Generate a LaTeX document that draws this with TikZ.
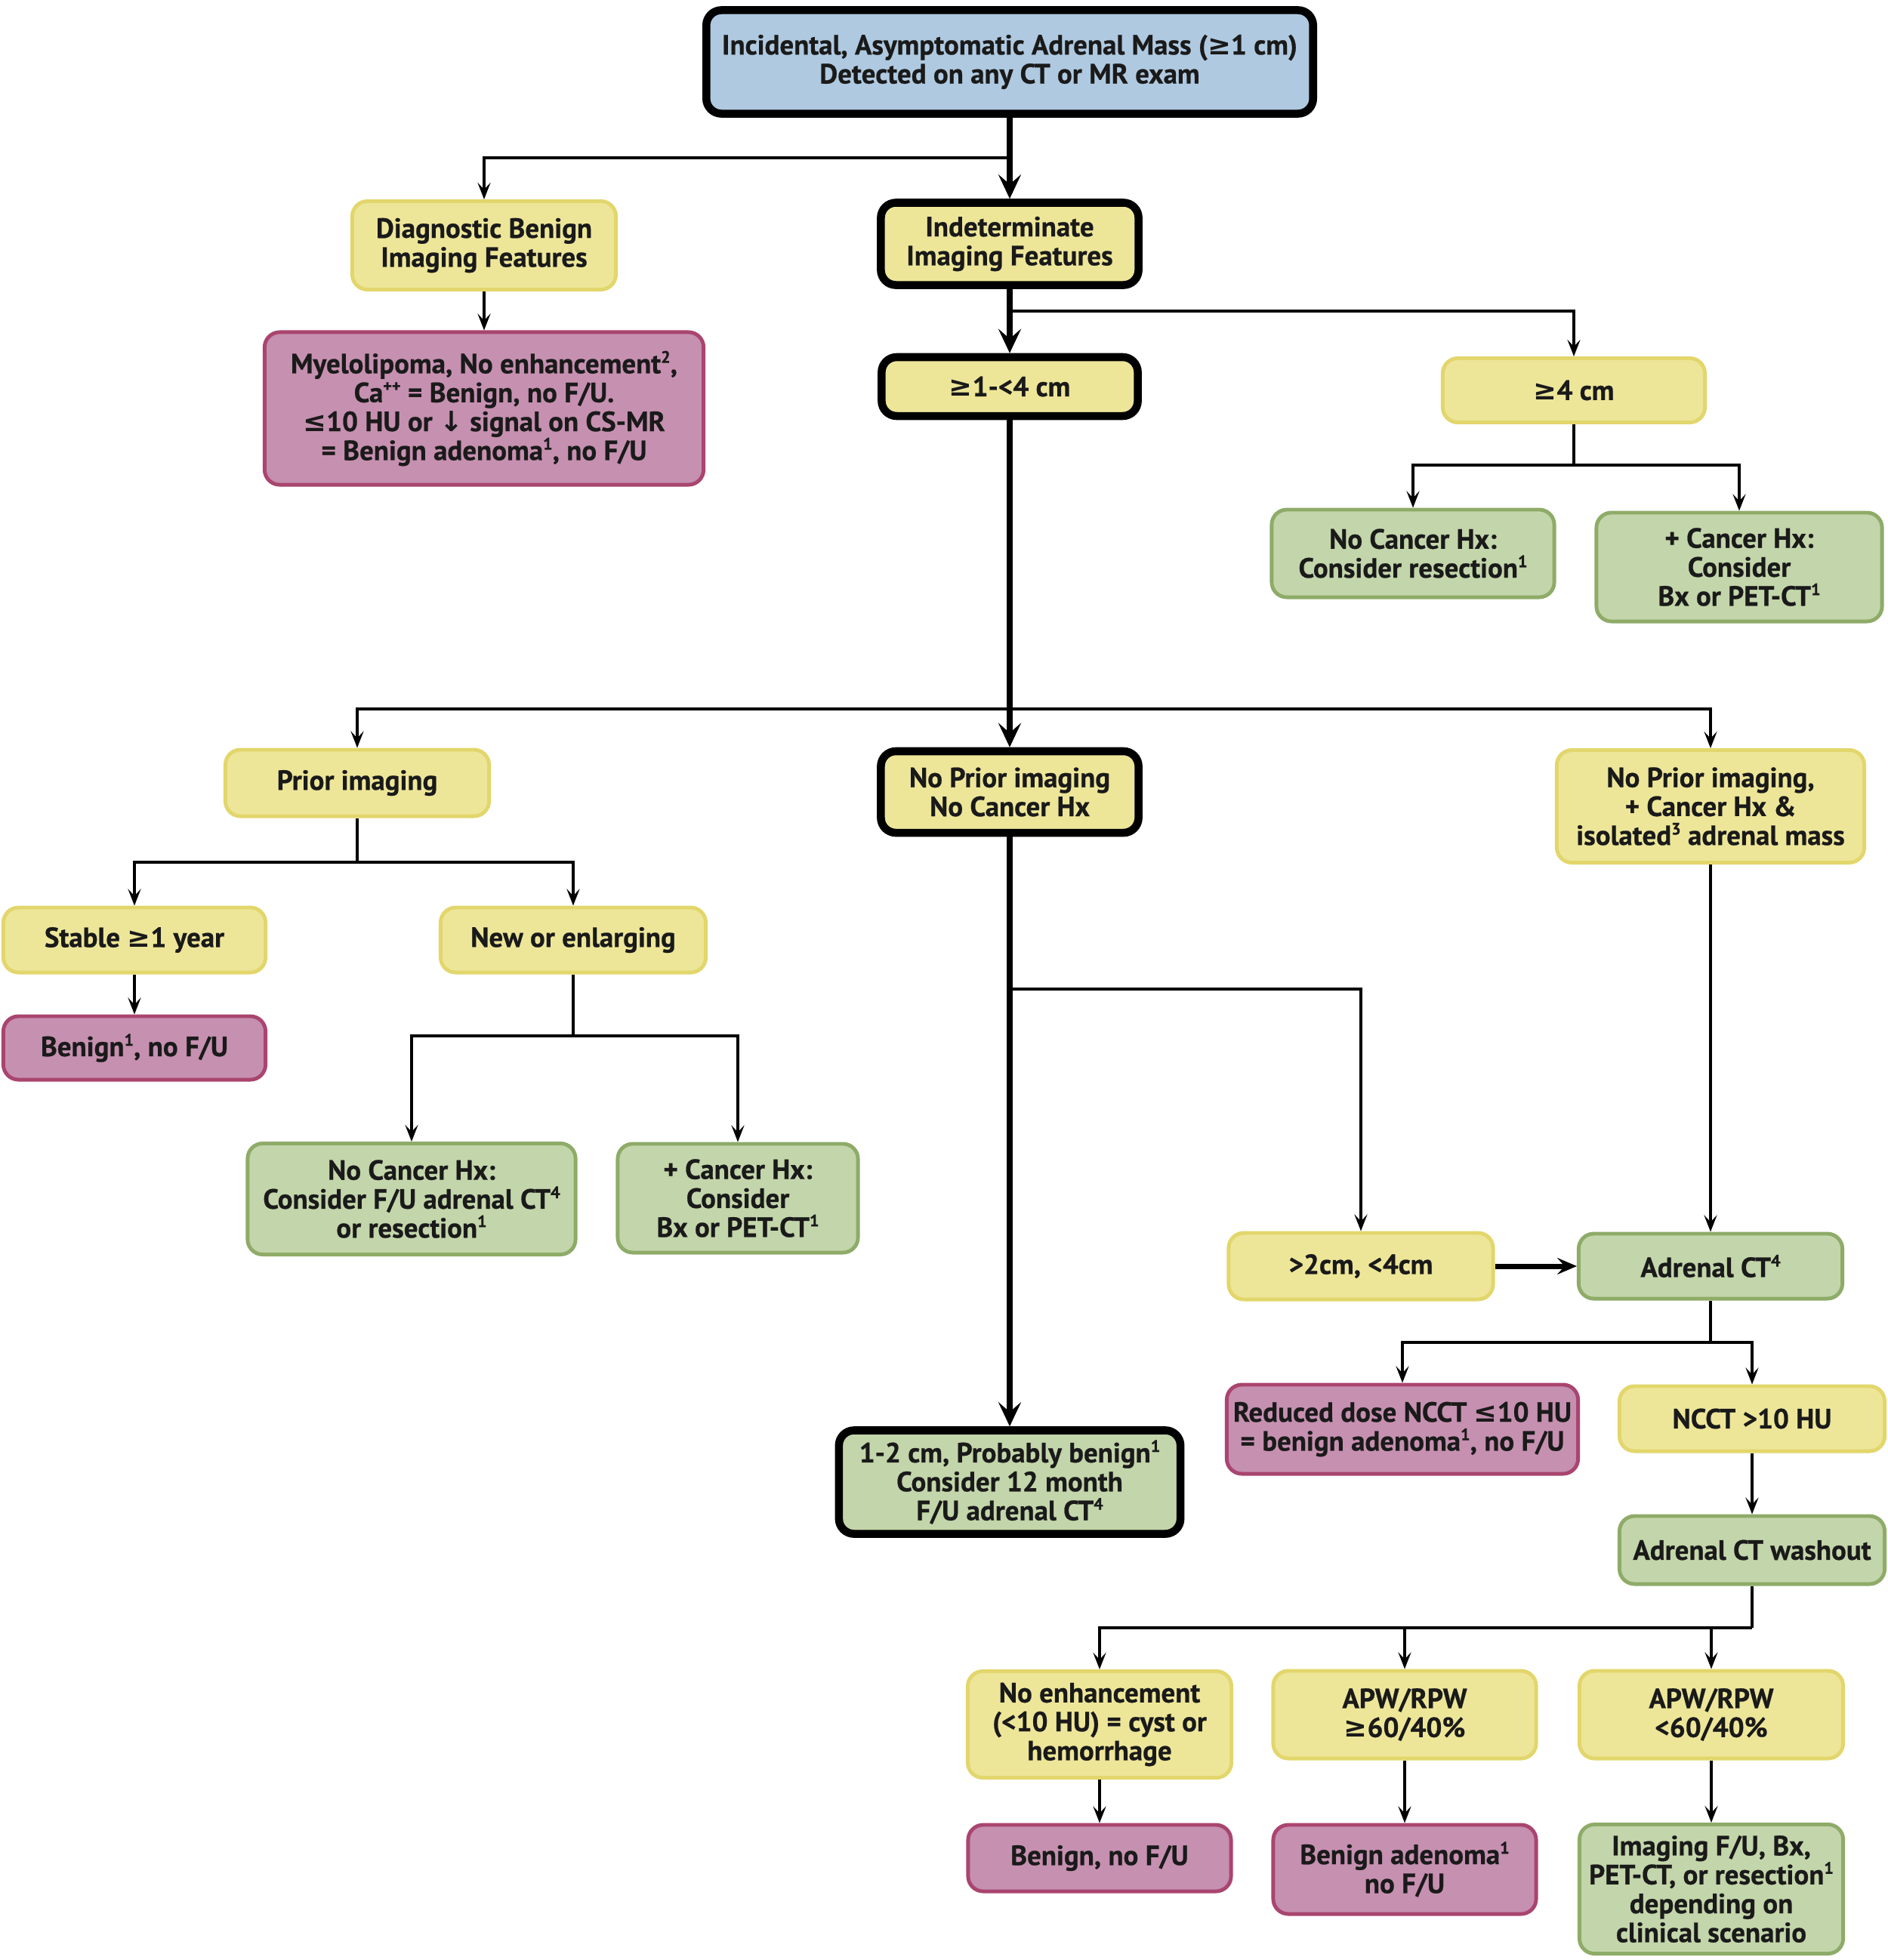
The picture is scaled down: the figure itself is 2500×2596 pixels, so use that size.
\documentclass[tikz,border=0pt]{standalone}
\usepackage{fontspec}
\setmainfont{PT Sans}[BoldFeatures={FakeBold=0.6}]
\newfontfamily\symf{DejaVu Sans}
\usetikzlibrary{arrows.meta}
\newcommand{\GE}{{\symf\bfseries ≥}}
\newcommand{\LE}{{\symf\bfseries ≤}}
\newcommand{\DA}{{\symf\bfseries ↓}}
\newcommand{\sups}[1]{\raisebox{0.75ex}{\fontsize{6.3}{6.3}\selectfont #1}}
\definecolor{bluef}{HTML}{AFC9E0}
\definecolor{yelf}{HTML}{EDE699}
\definecolor{yeld}{HTML}{E2D66C}
\definecolor{pinkf}{HTML}{C690B0}
\definecolor{pinkd}{HTML}{A9456F}
\definecolor{grnf}{HTML}{C3D5AA}
\definecolor{grnd}{HTML}{8EAB68}
\definecolor{txt}{HTML}{1A1A1A}
\tikzset{
  basebox/.style={rounded corners=0.2cm, align=center, inner sep=0pt,
    text=txt, font=\bfseries\fontsize{10.5}{10.9}\selectfont},
  ybox/.style={basebox, fill=yelf, draw=yeld, line width=1.4pt},
  pbox/.style={basebox, fill=pinkf, draw=pinkd, line width=1.4pt},
  gbox/.style={basebox, fill=grnf, draw=grnd, line width=1.4pt},
  kbox/.style={basebox, draw=black, line width=3pt},
  conn/.style={line width=1.2pt, draw=black},
  arr/.style={conn, -{Stealth[length=0.22cm,width=0.17cm,inset=0.09cm]}},
  spine/.style={line width=2.5pt, draw=black, -{Stealth[length=0.32cm,width=0.3cm,inset=0.13cm]}},
  marr/.style={line width=2pt, draw=black, -{Stealth[length=0.26cm,width=0.22cm,inset=0.1cm]}},
  sz/.style n args={2}{minimum width=#1cm, minimum height=#2cm}
}
\begin{document}
\begin{tikzpicture}[x=0.01cm,y=-0.01cm]
\useasboundingbox (0,0) rectangle (2500,2596);
% nodes
\node[kbox, fill=bluef, sz={8.03}{1.37}] (top) at (1337,82)
  {Incidental, Asymptomatic Adrenal Mass (\GE1 cm)\\Detected on any CT or MR exam};
\node[ybox, sz={3.49}{1.17}] (diag) at (641,325) {Diagnostic Benign\\Imaging Features};
\node[kbox, fill=yelf, sz={3.41}{1.09}] (indet) at (1337,323) {Indeterminate\\Imaging Features};
\node[pbox, sz={5.81}{2.02}] (myelo) at (641,541)
  {Myelolipoma, No enhancement\sups{2},\\Ca\sups{++} = Benign, no F/U.\\\LE10 HU or \DA\ signal on CS-MR\\= Benign adenoma\sups{1}, no F/U};
\node[kbox, fill=yelf, sz={3.39}{0.78}] (small) at (1337,512) {\GE1-<4 cm};
\node[ybox, sz={3.47}{0.85}] (big) at (2084,517) {\GE4 cm};
\node[gbox, sz={3.74}{1.16}] (noca1) at (1871,733) {No Cancer Hx:\\Consider resection\sups{1}};
\node[gbox, sz={3.78}{1.44}] (ca1) at (2303,751) {+ Cancer Hx:\\Consider\\Bx or PET-CT\sups{1}};
\node[ybox, sz={3.49}{0.88}] (prior) at (473,1037) {Prior imaging};
\node[kbox, fill=yelf, sz={3.41}{1.08}] (noprior) at (1337,1049) {No Prior imaging\\No Cancer Hx};
\node[ybox, sz={4.07}{1.49}] (nopriorca) at (2265,1068)
  {No Prior imaging,\\+ Cancer Hx \&\\isolated\sups{3} adrenal mass};
\node[ybox, sz={3.47}{0.86}] (stable) at (178,1245) {Stable \GE1 year};
\node[ybox, sz={3.51}{0.86}] (newenl) at (759,1245) {New or enlarging};
\node[pbox, sz={3.47}{0.84}] (benign1) at (178,1388) {Benign\sups{1}, no F/U};
\node[gbox, sz={4.34}{1.47}] (noca2) at (545,1588)
  {No Cancer Hx:\\Consider F/U adrenal CT\sups{4}\\or resection\sups{1}};
\node[gbox, sz={3.18}{1.44}] (ca2) at (977,1587) {+ Cancer Hx:\\Consider\\Bx or PET-CT\sups{1}};
\node[ybox, sz={3.50}{0.88}] (mid) at (1802,1677) {>2cm, <4cm};
\node[gbox, sz={3.49}{0.86}] (adct) at (2265,1677) {Adrenal CT\sups{4}};
\node[kbox, fill=grnf, sz={4.52}{1.37}] (onetwo) at (1337,1963)
  {1-2 cm, Probably benign\sups{1}\\Consider 12 month\\F/U adrenal CT\sups{4}};
\node[pbox, sz={4.65}{1.18}] (reduced) at (1857,1893)
  {Reduced dose NCCT \LE10 HU\\= benign adenoma\sups{1}, no F/U};
\node[ybox, sz={3.51}{0.86}] (ncct) at (2320,1879) {NCCT >10 HU};
\node[gbox, sz={3.51}{0.90}] (washout) at (2320,2053) {Adrenal CT washout};
\node[ybox, sz={3.49}{1.41}] (noenh) at (1456,2284) {No enhancement\\(<10 HU) = cyst or\\hemorrhage};
\node[ybox, sz={3.48}{1.16}] (apw1) at (1860,2271) {APW/RPW\\\GE60/40\%};
\node[ybox, sz={3.49}{1.16}] (apw2) at (2266,2271) {APW/RPW\\<60/40\%};
\node[pbox, sz={3.48}{0.88}] (benign2) at (1456,2461) {Benign, no F/U};
\node[pbox, sz={3.48}{1.18}] (benignad) at (1860,2476) {Benign adenoma\sups{1}\\no F/U};
\node[gbox, sz={3.49}{1.71}] (imaging) at (2266,2502)
  {Imaging F/U, Bx,\\PET-CT, or resection\sups{1}\\depending on\\clinical scenario};
% junctions
\coordinate (j1) at (1337,209);
\coordinate (j2) at (1337,412);
\coordinate (j3) at (2084,616);
\coordinate (j4) at (1337,939);
\coordinate (j5) at (473,1142);
\coordinate (j6) at (759,1372);
\coordinate (j7) at (1337,1310);
\coordinate (j8) at (2265,1778);
\coordinate (j9) at (2320,2156);
% connectors
\draw[arr] (j1) -| (diag);
\draw[spine] (top) -- (indet);
\draw[arr] (diag) -- (myelo);
\draw[arr] (j2) -| (big);
\draw[spine] (indet) -- (small);
\draw[conn] (big) -- (j3);
\draw[arr] (j3) -| (noca1);
\draw[arr] (j3) -| (ca1);
\draw[arr] (j4) -| (prior);
\draw[arr] (j4) -| (nopriorca);
\draw[spine] (small) -- (noprior);
\draw[conn] (prior) -- (j5);
\draw[arr] (j5) -| (stable);
\draw[arr] (j5) -| (newenl);
\draw[arr] (stable) -- (benign1);
\draw[conn] (newenl) -- (j6);
\draw[arr] (j6) -| (noca2);
\draw[arr] (j6) -| (ca2);
\draw[arr] (j7) -| (mid);
\draw[spine] (noprior) -- (onetwo);
\draw[marr] (mid) -- (adct);
\draw[arr] (nopriorca) -- (adct);
\draw[conn] (adct) -- (j8);
\draw[arr] (j8) -| (reduced);
\draw[arr] (j8) -| (ncct);
\draw[arr] (ncct) -- (washout);
\draw[conn] (washout) -- (j9);
\draw[arr] (j9) -| (noenh);
\draw[arr] (j9) -| (apw1);
\draw[arr] (j9) -| (apw2);
\draw[arr] (noenh) -- (benign2);
\draw[arr] (apw1) -- (benignad);
\draw[arr] (apw2) -- (imaging);
\end{tikzpicture}
\end{document}
